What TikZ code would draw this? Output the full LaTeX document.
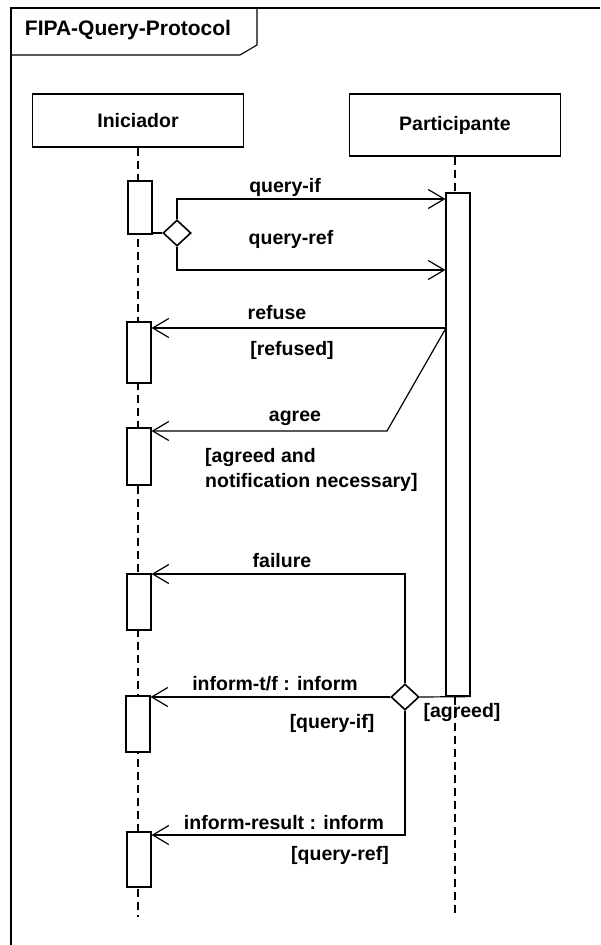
\documentclass[tikz,border=0pt]{standalone}
\usepackage{fontspec}
\setmainfont{Liberation Sans}
\usetikzlibrary{shapes.geometric,arrows.meta}
\begin{document}
\begin{tikzpicture}[x=1pt,y=-1pt,
  every node/.style={font=\fontsize{19.5}{25}\selectfont\bfseries},
  frameline/.style={line width=1.1pt},
  head/.style={draw,line width=1.2pt,minimum width=211pt,inner sep=0pt},
  act/.style={draw,fill=white,line width=1.2pt,minimum width=24pt,inner sep=0pt},
  choice/.style={draw,fill=white,diamond,line width=1.6pt,minimum width=28pt,minimum height=26pt,inner sep=0pt},
  lifeline/.style={line width=1.2pt,dash pattern=on 8pt off 5pt},
  msg/.style={line width=1.2pt,-{Straight Barb[length=16pt,width=19pt,line width=1.2pt]}},
  conn/.style={line width=1.2pt},
  lbl/.style={inner sep=0pt}]
\useasboundingbox (0,0) rectangle (600,945);
% frame
\draw[frameline] (11,945) -- (11,8) -- (600,8);
\draw[frameline] (11,55) -- (240,55) -- (257,45) -- (257,8);
\node[lbl,font=\fontsize{21}{25}\selectfont\bfseries] (title) at (128,30) {FIPA-Query-Protocol};
% lifeline heads
\node[head,minimum height=53pt] (ini) at (138,120.5) {Iniciador};
\node[head,minimum height=62pt] (par) at (455,125) {Participante};
\coordinate (lend) at (0,917);
% lifelines
\draw[lifeline] (ini.south) -- (ini.south |- lend);
% participant activation
\node[act,minimum height=503pt] (pbar) at (458,444.5) {};
\draw[lifeline] (par.south) -- (par.south |- pbar.north);
\draw[lifeline] (par.south |- pbar.south) -- (par.south |- lend);
% initiator activations
\node[act,minimum height=53pt] (a1) at (140,207.5) {};
\node[act,minimum height=61pt] (a2) at (139,352.5) {};
\node[act,minimum height=57pt] (a3) at (139,456.5) {};
\node[act,minimum height=56pt] (a4) at (139,602) {};
\node[act,minimum height=56pt] (a5) at (138,724) {};
\node[act,minimum height=55pt] (a6) at (139,859.5) {};
% choices
\node[choice] (d1) at (177,233) {};
\node[choice] (d2) at (405,697) {};
% named levels
\coordinate (qif) at (0,199);
\coordinate (qref) at (0,270);
\coordinate (rf) at (446,328);
\coordinate (ag) at (387,431);
\coordinate (fl) at (0,574);
\coordinate (ir) at (0,835);
% connectors
\draw[conn] (a1.east |- d1.west) -- (d1.west);
\draw[msg] (d1.north) |- (pbar.west |- qif);
\draw[msg] (d1.south) |- (pbar.west |- qref);
\draw[msg] (rf) -- (a2.east |- rf);
\draw[msg] (rf) -- (ag) -- (a3.east |- ag);
\draw[msg] (d2.north) |- (a4.east |- fl);
\draw[msg] (d2.west) -- (a5.east |- d2.west);
\draw[conn] (d2.east) -- (pbar.south east);
\draw[msg] (d2.south) |- (a6.east |- ir);
% labels
\node[lbl] (l1) at (285,187) {query-if};
\node[lbl] (l2) at (291,239) {query-ref};
\node[lbl] (l3) at (277,313) {refuse};
\node[lbl] (l4) at (292,350) {[refused]};
\node[lbl] (l5) at (295,418) {agree};
\node[lbl,anchor=west,align=left] (l6) at (205,469.5) {[agreed and\\notification necessary]};
\node[lbl] (l7) at (282,561) {failure};
\node[lbl] (l8) at (275,684) {inform-t/f : inform};
\node[lbl] (l9) at (332,723) {[query-if]};
\node[lbl] (l10) at (462,712) {[agreed]};
\node[lbl] (l11) at (284,823) {inform-result : inform};
\node[lbl] (l12) at (340,855) {[query-ref]};
\end{tikzpicture}
\end{document}
